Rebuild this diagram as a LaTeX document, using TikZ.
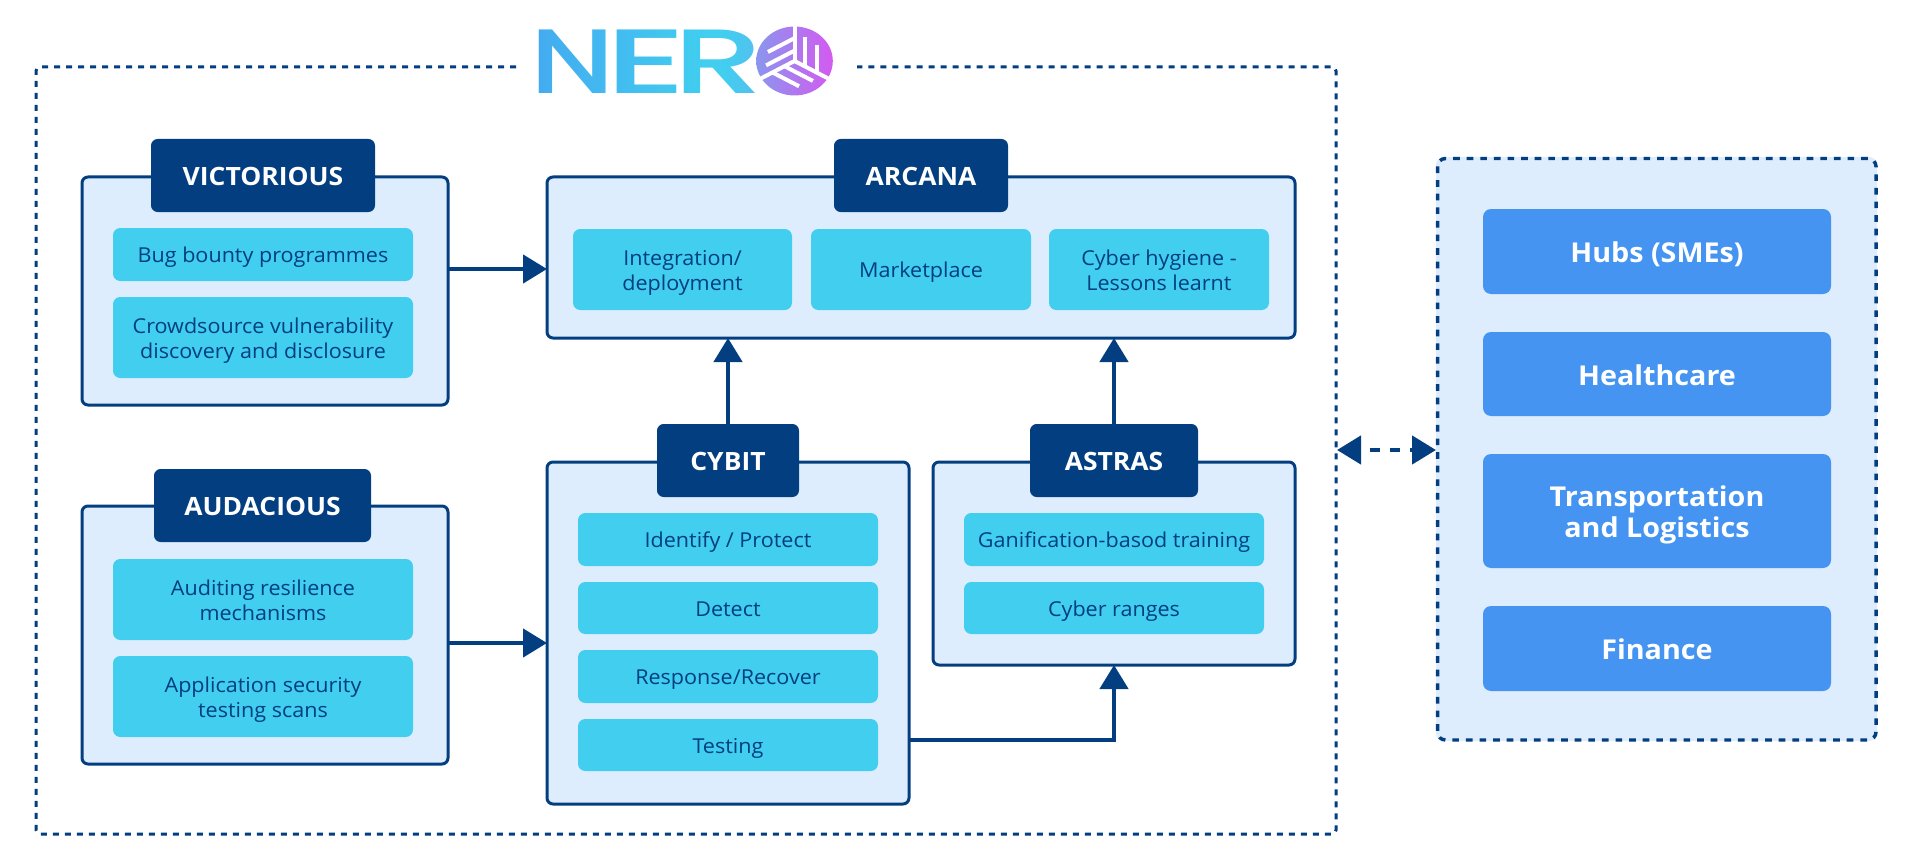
\documentclass[tikz,border=0pt]{standalone}
\usepackage{fontspec}
\setmainfont[FakeStretch=1.05]{Open Sans}
\newfontfamily\logofont[UprightFont={* Medium}]{Poppins}
\usetikzlibrary{arrows.meta,fadings,calc}
\definecolor{navy}{HTML}{033F80}
\definecolor{pale}{HTML}{DDEDFE}
\definecolor{cyanbox}{HTML}{41CEEF}
\definecolor{bluebox}{HTML}{4594F1}
\definecolor{logoA}{HTML}{4596F1}
\definecolor{logoB}{HTML}{8A96EE}
\definecolor{logoC}{HTML}{D45AF0}
\pgfdeclarehorizontalshading{nershade}{100bp}{
  color(0bp)=(logoA);
  color(14.8bp)=(logoA);
  color(59.8bp)=(cyanbox);
  color(62.7bp)=(cyanbox);
  color(85.5bp)=(logoB);
  color(100bp)=(logoB)}
\begin{tikzfadingfrompicture}[name=nerfade]
  \useasboundingbox (0,0) rectangle (8cm,3cm);
  \begin{scope}[x=0.75pt,y=0.75pt,every node/.style={text=transparent!0,inner sep=0pt,font=\logofont\fontsize{68.5}{68.5}\selectfont}]
  \node (fn) at (79,56.7) {\addfontfeature{FakeStretch=1.28}N};
  \node (fe) at (152,56.7) {\addfontfeature{FakeStretch=1.7}E};
  \node (fr) at (224.5,56.7) {\addfontfeature{FakeStretch=1.57}R};
  \end{scope}
\end{tikzfadingfrompicture}
\newcommand{\txtstrut}{\rule[-0.28em]{0pt}{1.38em}}
\newcommand{\firstline}{\rule{0pt}{1.1em}}
\tikzset{
  px/.style={x=0.75pt,y=-0.75pt},
  group/.style={draw=navy,fill=pale,line width=2.25pt,rounded corners=4.5pt,inner sep=0pt,outer sep=0pt},
  boxtext/.style={inner sep=0pt,outer sep=0pt,execute at begin node=\txtstrut,execute at end node=\txtstrut},
  header/.style={boxtext,fill=navy,text=white,rounded corners=5pt,font=\fontsize{18.9}{21}\selectfont\bfseries},
  item/.style={boxtext,fill=cyanbox,text=navy,rounded corners=5.5pt,align=center,font=\fontsize{15.4}{18.4}\selectfont},
  sector/.style={boxtext,fill=bluebox,text=white,rounded corners=6pt,align=center,font=\fontsize{20.5}{23}\selectfont\bfseries},
  flow/.style={draw=navy,line width=3.4pt,-{Triangle[length=18pt,width=21pt]}},
  frame/.style={draw=navy,line width=2.25pt,dash pattern=on 4.5pt off 4.5pt,rounded corners=3pt},
}
\newcommand{\bx}[7]{\node[#1,minimum width={(#5-#3)*0.75pt},minimum height={(#6-#4)*0.75pt}] (#2) at ({(#3+#5)/2},{(#4+#6)/2}) {#7};}
\begin{document}
\begin{tikzpicture}[px]
\useasboundingbox (0,0) rectangle (1920,863);
% outer frame
\coordinate (gapL) at (516,67);
\coordinate (gapR) at (857,67);
\coordinate (frameR) at (1337,450);
\draw[frame] (gapL) -- (36,67) -- (36,834) -- (1336,834) -- (1336,67) -- (gapR);
% logo
\path[shading=nershade,path fading=nerfade,fit fading=false,fading transform={xshift=484.35pt,yshift=-46.5pt}] (494.2,4.3) rectangle (797.6,118.7);
\begin{scope}[shift={(794.5,61)},yscale=0.9]
  \shade[left color=logoB,right color=logoC] (0,0) circle[radius=38.3];
  \foreach \a in {0,120,240}{
    \begin{scope}[rotate=\a]
      \draw[white,line width=3pt] (0,0) -- (0,-41);
      \draw[white,line width=3pt] (10,-27) -- (10,6);
      \draw[white,line width=3pt] (22,-18) -- (22,13);
    \end{scope}
  }
\end{scope}
% right panel
\bx{fill=pale,rounded corners=6pt,inner sep=0pt,outer sep=0pt}{panel}{1436}{157}{1877}{741}{}
\draw[navy,line width=2.6pt,dash pattern=on 5pt off 5.2pt,rounded corners=6pt] (1437.5,158.5) rectangle (1876,740);
\bx{sector}{hubs}{1483}{209}{1831}{294}{Hubs (SMEs)}
\bx{sector}{health}{1483}{332}{1831}{416}{Healthcare}
\bx{sector}{trans}{1483}{454}{1831}{568}{\firstline Transportation\\and Logistics}
\bx{sector}{fin}{1483}{606}{1831}{691}{Finance}
% groups
\bx{group}{vic}{82}{177}{448}{405}{}
\bx{header}{vich}{151}{139}{375}{212}{VICTORIOUS}
\bx{item}{v1}{113}{228}{413}{281}{Bug bounty programmes}
\bx{item}{v2}{113}{297}{413}{378}{\firstline Crowdsource vulnerability\\discovery and disclosure}
\bx{group}{aud}{82}{506}{448}{764}{}
\bx{header}{audh}{154}{469}{371}{542}{AUDACIOUS}
\bx{item}{a1}{113}{559}{413}{640}{\firstline Auditing resilience\\mechanisms}
\bx{item}{a2}{113}{656}{413}{737}{\firstline Application security\\testing scans}
\bx{group}{arc}{547}{177}{1295}{338}{}
\bx{header}{arch}{834}{139}{1008}{212}{ARCANA}
\bx{item}{r1}{573}{229}{792}{310}{\firstline Integration/\\deployment}
\bx{item}{r2}{811}{229}{1031}{310}{Marketplace}
\bx{item}{r3}{1049}{229}{1269}{310}{\firstline Cyber hygiene -\\Lessons learnt}
\bx{group}{cyb}{547}{462}{909}{804}{}
\bx{header}{cybh}{657}{424}{799}{497}{CYBIT}
\bx{item}{c1}{578}{513}{878}{566}{Identify / Protect}
\bx{item}{c2}{578}{582}{878}{634}{Detect}
\bx{item}{c3}{578}{650}{878}{703}{Response/Recover}
\bx{item}{c4}{578}{719}{878}{771}{Testing}
\bx{group}{ast}{933}{462}{1295}{665}{}
\bx{header}{asth}{1030}{424}{1198}{497}{ASTRAS}
\bx{item}{s1}{964}{513}{1264}{566}{Ganification-basod training}
\bx{item}{s2}{964}{582}{1264}{634}{Cyber ranges}
% connectors
\coordinate (ya) at (0,269);
\coordinate (yb) at (0,643);
\coordinate (yc) at (0,740);
\draw[flow] (vic.east |- ya) -- (arc.west |- ya);
\draw[flow] (aud.east |- yb) -- (cyb.west |- yb);
\draw[flow] (cybh.north) -- (arc.south -| cybh.north);
\draw[flow] (asth.north) -- (arc.south -| asth.north);
\draw[flow] (cyb.east |- yc) -| (ast.south);
\draw[navy,line width=3.4pt,dash pattern=on 7.5pt off 7.5pt,dash phase=7.5pt,{Triangle[length=18pt,width=21pt]}-{Triangle[length=18pt,width=21pt]}] (frameR) -- (panel.west |- frameR);
\end{tikzpicture}
\end{document}
